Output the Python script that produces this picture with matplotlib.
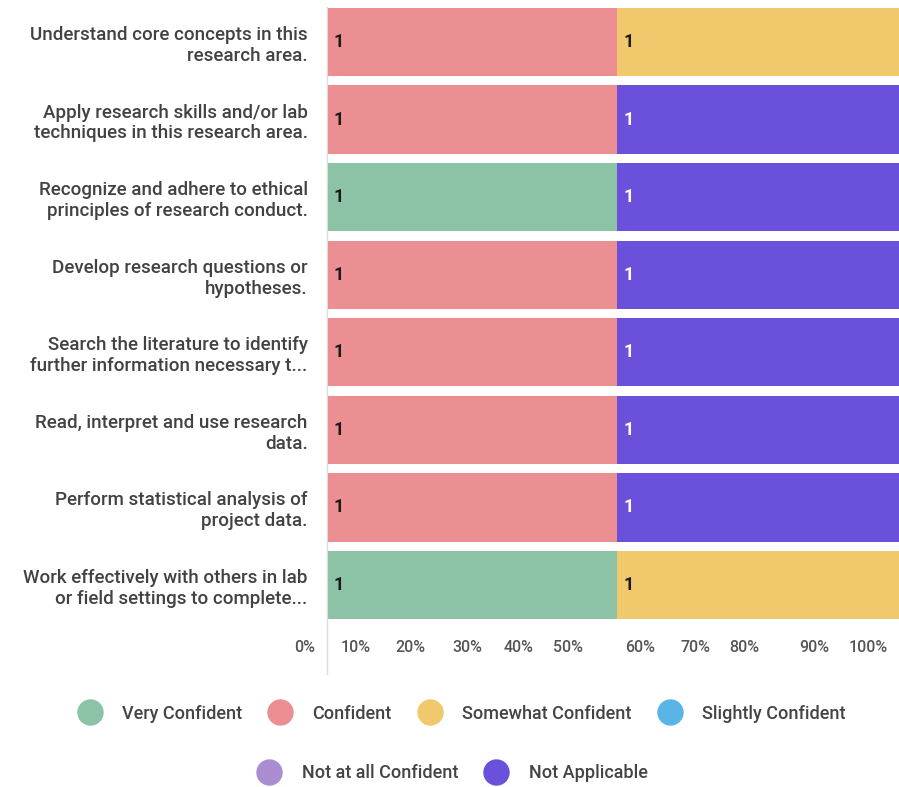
import matplotlib.pyplot as plt
from matplotlib.lines import Line2D

plt.rcParams['font.family'] = ['Roboto', 'DejaVu Sans']

questions = [
    "Understand core concepts in this\nresearch area.",
    "Apply research skills and/or lab\ntechniques in this research area.",
    "Recognize and adhere to ethical\nprinciples of research conduct.",
    "Develop research questions or\nhypotheses.",
    "Search the literature to identify\nfurther information necessary t...",
    "Read, interpret and use research\ndata.",
    "Perform statistical analysis of\nproject data.",
    "Work effectively with others in lab\nor field settings to complete...",
]
levels = ["Very Confident", "Confident", "Somewhat Confident",
          "Slightly Confident", "Not at all Confident", "Not Applicable"]
colors = ["#8cc3a7", "#eb8f93", "#efc96b", "#5bb4e6", "#a98dd0", "#6a50db"]

# response counts per question, one list per level
counts = {
    "Very Confident":       [0, 0, 1, 0, 0, 0, 0, 1],
    "Confident":            [1, 1, 0, 1, 1, 1, 1, 0],
    "Somewhat Confident":   [1, 0, 0, 0, 0, 0, 0, 1],
    "Slightly Confident":   [0, 0, 0, 0, 0, 0, 0, 0],
    "Not at all Confident": [0, 0, 0, 0, 0, 0, 0, 0],
    "Not Applicable":       [0, 1, 1, 1, 1, 1, 1, 0],
}
tick_labels = ["0%", "10%", "20%", "30%", "40%", "50%",
               "60%", "70%", "80%", "90%", "100%"]
# where the tick labels sit in the reference (not evenly spaced)
tick_pos = [-4, 4.7, 14.2, 24, 32.9, 41.5, 54, 63.5, 72, 84, 93.4]

fig = plt.figure(figsize=(8.99, 7.87), dpi=100)
ax = fig.add_axes([0.3392, 0.2074, 0.669, 0.7885])

n = len(questions)
totals = [sum(counts[l][i] for l in levels) for i in range(n)]
left = [0.0] * n
for lev, col in zip(levels, colors):
    pct = [100 * c / t for c, t in zip(counts[lev], totals)]
    ax.barh(range(n), pct, left=left, height=0.88, color=col, label=lev)
    for i, (c, p) in enumerate(zip(counts[lev], pct)):
        if c > 0:
            tc = "white" if lev == "Not Applicable" else "#1a1a1a"
            ax.text(left[i] + 1.0, i, str(c), va="center", ha="left",
                    fontsize=13, fontweight="bold", color=tc)
    left = [a + b for a, b in zip(left, pct)]

ax.set_yticks(range(n))
ax.set_yticklabels(questions, fontsize=13.5, color="#424242", ha="right",
                   fontweight="medium", linespacing=1.2)
ax.tick_params(axis="y", length=0, pad=-2)
ax.set_xticks(tick_pos)
ax.set_xticklabels(tick_labels, fontsize=11.5, color="#555555",
                   fontweight="medium")
ax.tick_params(axis="x", length=0, pad=12)
ax.set_xlim(-4, 100)
ax.set_ylim(n - 0.5, -0.5)
for s in ["top", "right", "bottom", "left"]:
    ax.spines[s].set_visible(False)
ax.plot([-0.2, -0.2], [-0.45, n + 0.15], color="#dddddd", lw=1,
        clip_on=False, zorder=0)

def handles(names):
    return [Line2D([], [], marker="o", ls="", markersize=19,
                   markerfacecolor=colors[levels.index(nm)],
                   markeredgewidth=0, label=nm) for nm in names]

leg_kw = dict(loc="center", frameon=False, labelcolor="#444444",
              handletextpad=0.8, columnspacing=1.1,
              prop={"weight": "medium", "size": 13})
fig.legend(handles=handles(levels[:4]), bbox_to_anchor=(0.51, 0.093),
           ncol=4, **leg_kw)
fig.legend(handles=handles(levels[4:]), bbox_to_anchor=(0.5, 0.018),
           ncol=2, **leg_kw)

fig.savefig("out.png", dpi=100)
